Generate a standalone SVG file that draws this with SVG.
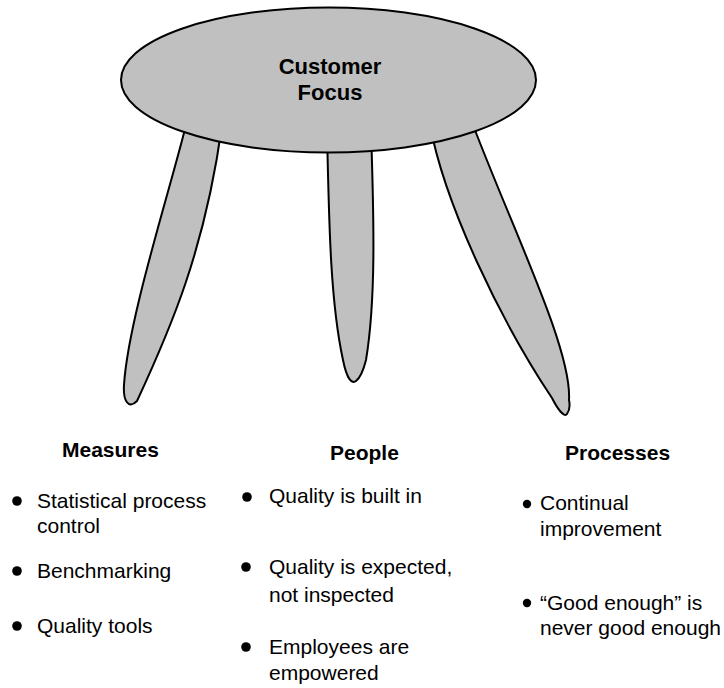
<svg xmlns="http://www.w3.org/2000/svg" width="724" height="688" viewBox="0 0 724 688">
<style>
.shape{fill:#c0c0c0;stroke:#000;stroke-width:2;stroke-linejoin:round}
.t{font-family:"Liberation Sans",Arial,sans-serif;font-size:21px;fill:#000}
.h{font-family:"Liberation Sans",Arial,sans-serif;font-size:21px;font-weight:bold;fill:#000}
.c{font-family:"Liberation Sans",Arial,sans-serif;font-size:22px;font-weight:bold;fill:#000;text-anchor:middle}
.b{fill:#000}
</style>
<rect width="724" height="688" fill="#fff"/>
<g id="legs">
<path id="leg-left" class="shape" d="M 186 125 C 170 190, 128 320, 124 385 C 123 400, 128 410, 137 401 C 170 330, 205 250, 222 125 Z"/>
<path id="leg-middle" class="shape" d="M 327 130 C 329 220, 330 300, 343 360 C 347 380, 352 384, 356 381 C 360 378, 363 372, 366 360 C 376 300, 374 220, 371 130 Z"/>
<path id="leg-right" class="shape" d="M 430 125 C 445 205, 500 320, 552 398 C 557 408, 564 418, 567 414 C 570 410, 570 405, 569 400 C 572 350, 515 235, 473 125 Z"/>
</g>
<g id="seat">
<ellipse class="shape" cx="328.5" cy="80" rx="207.5" ry="72.5"/>
<text class="c" x="330" y="74">Customer</text>
<text class="c" x="330" y="100">Focus</text>
</g>
<g id="measures">
<text class="h" x="62" y="457">Measures</text>
<circle class="b" cx="17" cy="501" r="4.8"/>
<text class="t" x="37" y="508">Statistical process</text>
<text class="t" x="37" y="533">control</text>
<circle class="b" cx="17" cy="571" r="4.8"/>
<text class="t" x="37" y="578">Benchmarking</text>
<circle class="b" cx="17" cy="626" r="4.8"/>
<text class="t" x="37" y="633">Quality tools</text>
</g>
<g id="people">
<text class="h" x="330" y="460">People</text>
<circle class="b" cx="247" cy="497" r="4.8"/>
<text class="t" x="269" y="503">Quality is built in</text>
<circle class="b" cx="246" cy="567" r="4.8"/>
<text class="t" x="269" y="574">Quality is expected,</text>
<text class="t" x="269" y="602">not inspected</text>
<circle class="b" cx="246" cy="647" r="4.8"/>
<text class="t" x="269" y="654">Employees are</text>
<text class="t" x="269" y="680">empowered</text>
</g>
<g id="processes">
<text class="h" x="565" y="460">Processes</text>
<circle class="b" cx="527" cy="504" r="4.2"/>
<text class="t" x="540" y="510">Continual</text>
<text class="t" x="540" y="536">improvement</text>
<circle class="b" cx="527" cy="603" r="4.2"/>
<text class="t" x="540" y="610">“Good enough” is</text>
<text class="t" x="540" y="635" textLength="181" lengthAdjust="spacingAndGlyphs">never good enough</text>
</g>
<g id="connectors"/>
</svg>
